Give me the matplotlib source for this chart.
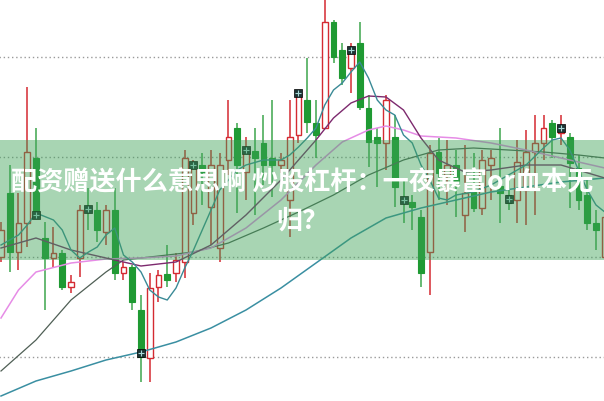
import matplotlib
matplotlib.use('Agg')
import matplotlib.pyplot as plt
from matplotlib.patches import Rectangle

# ---- candle data (price units) ----
opens = [11.44, 12.08, 11.49, 11.78, 12.43, 11.63, 11.43, 11.48, 11.14, 11.43,
         11.94, 11.91, 11.69, 11.91, 11.28, 11.34, 10.91, 10.43, 11.14, 11.27,
         11.28, 11.39, 11.88, 12.36, 11.94, 11.53, 12.41, 12.73, 12.29, 12.50,
         12.58, 12.43, 12.36, 12.01, 12.66, 13.01, 12.78, 12.73, 13.79, 13.51,
         13.33, 13.58, 12.93, 12.64, 12.58, 12.64, 12.03, 11.99, 11.84, 11.49,
         12.49, 12.26, 12.36, 11.86, 12.09, 11.93, 12.36, 12.15, 12.06, 12.01,
         12.11, 12.49, 12.58, 12.78, 12.68, 12.64, 12.33, 12.06, 11.78, 11.44]
highs = [11.79, 12.36, 12.08, 13.14, 12.73, 11.79, 11.74, 11.51, 11.26, 11.96,
         12.13, 11.99, 11.96, 12.13, 11.39, 11.36, 11.06, 11.28, 11.31, 11.56,
         11.48, 12.51, 12.41, 12.48, 12.51, 12.48, 13.01, 12.78, 12.64, 12.73,
         12.86, 13.01, 12.48, 13.01, 13.11, 13.43, 13.01, 14.06, 13.81, 13.58,
         13.58, 13.79, 13.06, 12.73, 13.06, 12.86, 12.21, 12.06, 11.91, 12.56,
         12.63, 12.61, 12.51, 12.56, 12.48, 12.51, 12.51, 12.73, 12.21, 12.61,
         12.71, 12.86, 12.86, 12.81, 12.86, 12.68, 12.46, 12.21, 11.91, 11.91]
lows = [11.39, 11.29, 11.31, 11.54, 11.84, 10.91, 11.34, 11.11, 11.08, 11.24,
        11.71, 11.59, 11.56, 11.21, 11.21, 10.91, 10.19, 10.19, 10.99, 11.14,
        11.19, 11.23, 11.76, 11.96, 11.56, 11.39, 12.26, 11.88, 12.01, 11.86,
        12.16, 12.04, 12.28, 11.64, 12.58, 12.68, 12.43, 12.73, 13.38, 13.16,
        13.08, 12.91, 12.34, 12.14, 12.31, 11.94, 11.78, 11.71, 11.14, 11.06,
        12.01, 11.96, 11.84, 11.69, 11.89, 11.86, 12.01, 11.78, 11.91, 11.78,
        11.76, 11.86, 12.41, 12.43, 12.56, 11.93, 11.91, 11.71, 11.51, 11.39]
closes = [11.71, 11.49, 11.78, 12.49, 11.89, 11.43, 11.48, 11.14, 11.19, 11.91,
          11.89, 11.71, 11.91, 11.28, 11.34, 10.99, 10.44, 11.13, 11.26, 11.21,
          11.41, 12.43, 12.33, 12.29, 12.36, 12.36, 12.64, 12.36, 12.49, 12.43,
          12.36, 12.36, 12.41, 12.64, 13.08, 12.79, 12.66, 13.79, 13.44, 13.23,
          13.48, 12.94, 12.59, 12.58, 13.01, 12.14, 11.98, 11.94, 11.28, 12.48,
          12.28, 12.36, 12.18, 12.08, 11.93, 12.41, 12.43, 12.08, 11.98, 12.39,
          12.49, 12.58, 12.73, 12.64, 12.75, 12.38, 12.01, 11.78, 11.71, 11.84]

# ---- moving-average lines (read at candle indices) ----
ma5_idx = [0, 2, 3, 4, 6, 7, 8, 9, 10, 11, 12, 13, 14, 15, 16, 17, 18, 19, 20, 21,
           22, 23, 24, 25, 26, 27, 28, 30, 32, 33, 34, 35, 36, 37, 38, 39, 40, 41,
           42, 43, 44, 45, 46, 47, 48, 49, 50, 51, 52, 54, 56, 58, 60, 62, 63, 64,
           65, 66, 67, 68, 69]
ma5_val = [11.56, 11.66, 11.76, 11.88, 11.81, 11.71, 11.51, 11.43, 11.49, 11.54,
           11.66, 11.73, 11.46, 11.39, 11.29, 11.11, 11.04, 11.01, 11.13, 11.33,
           11.51, 11.71, 11.91, 12.11, 12.21, 12.31, 12.36, 12.41, 12.41, 12.46,
           12.54, 12.63, 12.73, 12.96, 13.11, 13.18, 13.29, 13.39, 13.23, 13.01,
           12.91, 12.86, 12.66, 12.58, 12.36, 12.21, 12.03, 12.01, 12.06, 12.09,
           12.16, 12.26, 12.36, 12.53, 12.61, 12.63, 12.51, 12.31, 12.11, 11.96,
           11.89]
ma10_idx = [0, 4, 8, 12, 16, 20, 24, 28, 32, 36, 38, 40, 42, 44, 46, 48, 50, 53,
            56, 60, 64, 69]
ma10_val = [11.53, 11.63, 11.51, 11.43, 11.35, 11.39, 11.56, 11.86, 12.21, 12.61,
            12.83, 12.98, 13.05, 13.04, 12.91, 12.63, 12.41, 12.29, 12.31, 12.36,
            12.36, 12.23]
ma20_idx = [0, 2, 4, 8, 12, 16, 20, 24, 28, 32, 36, 39, 42, 44, 46, 48, 52, 56,
            60, 64, 69]
ma20_val = [10.83, 11.11, 11.29, 11.38, 11.42, 11.43, 11.45, 11.53, 11.73, 12.01,
            12.36, 12.59, 12.71, 12.75, 12.71, 12.65, 12.63, 12.58, 12.51, 12.43,
            12.33]
ma30_idx = [0, 4, 8, 12, 14, 18, 22, 26, 30, 34, 38, 42, 46, 50, 54, 58, 62, 66, 69]
ma30_val = [10.30, 10.61, 11.01, 11.29, 11.41, 11.45, 11.49, 11.58, 11.73, 11.89,
            12.06, 12.26, 12.41, 12.51, 12.53, 12.51, 12.49, 12.46, 12.43]
ma60_idx = [0, 4, 8, 12, 16, 20, 24, 28, 32, 36, 40, 44, 48, 52, 56, 60, 64, 69]
ma60_val = [10.05, 10.20, 10.30, 10.41, 10.49, 10.59, 10.73, 10.91, 11.13, 11.38,
            11.63, 11.83, 11.93, 12.01, 12.09, 12.14, 12.19, 12.23]

# ---- signal markers ----
marker_idx = [4, 10, 16, 22, 28, 34, 40, 46, 58, 64]
marker_val = [11.86, 11.92, 10.48, 12.36, 12.51, 13.08, 13.51, 12.01, 12.02, 12.73]

grid_levels = [13.44, 12.44, 11.44, 10.44]
title_line1 = "配资赠送什么意思啊 炒股杠杆：一夜暴富or血本无"
title_line2 = "归？"

RED = '#d42a32'
GREEN = '#1f9a33'
GREEN_WICK = '#3da64d'

fig = plt.figure(figsize=(6.04, 4.01), dpi=100)
ax = fig.add_axes([0, 0, 1, 1])
ax.set_xlim(-0.114, 68.914)
ax.set_ylim(10.00, 14.01)
ax.axis('off')

ax.hlines(grid_levels, -1, 70, colors='#9a9a9a', linestyles=(0, (1, 2)),
          linewidth=1.0, zorder=0)

w = 0.64
for i, (o, h, l, c) in enumerate(zip(opens, highs, lows, closes)):
    up = c >= o
    ax.vlines(i, l, h, colors=(RED if up else GREEN_WICK), linewidth=1.1, zorder=2)
    lo = min(o, c)
    hgt = max(abs(c - o), 0.015)
    if up:
        ax.add_patch(Rectangle((i - w / 2, lo), w, hgt, facecolor='white',
                               edgecolor=RED, linewidth=1.0, zorder=3))
    else:
        ax.add_patch(Rectangle((i - w / 2, lo), w, hgt, facecolor=GREEN,
                               edgecolor=GREEN, linewidth=0.8, zorder=3))

ax.plot(ma60_idx, ma60_val, color='#3a8fa2', lw=1.1, zorder=4)
ax.plot(ma30_idx, ma30_val, color='#4f5f55', lw=0.9, zorder=4)
ax.plot(ma20_idx, ma20_val, color='#e68ce6', lw=1.1, zorder=4)
ax.plot(ma10_idx, ma10_val, color='#7d2a6e', lw=1.0, zorder=4)
ax.plot(ma5_idx, ma5_val, color='#3a8a96', lw=1.0, zorder=4)

ax.scatter(marker_idx, marker_val, marker='s', s=30, facecolor='#1c3434',
           edgecolor='#000000', linewidths=0.5, zorder=5)
ax.scatter(marker_idx, marker_val, marker='+', s=14, color='#a8d8d8',
           linewidths=0.8, zorder=6)

# green banner overlay
fig.patches.append(Rectangle((0, 1 - 260 / 401), 1, 120 / 401,
                             transform=fig.transFigure, facecolor='#3ea258',
                             alpha=0.45, edgecolor='none', zorder=10))

fam = ['Noto Sans CJK SC', 'DejaVu Sans']
fig.text(0.5, 1 - 183 / 401, title_line1, ha='center', va='center',
         fontsize=18.8, color='white', fontweight='bold', family=fam, zorder=11)
fig.text(0.5, 1 - 221 / 401, title_line2, ha='center', va='center',
         fontsize=18.8, color='white', fontweight='bold', family=fam, zorder=11)

fig.savefig('out.png', dpi=100)
